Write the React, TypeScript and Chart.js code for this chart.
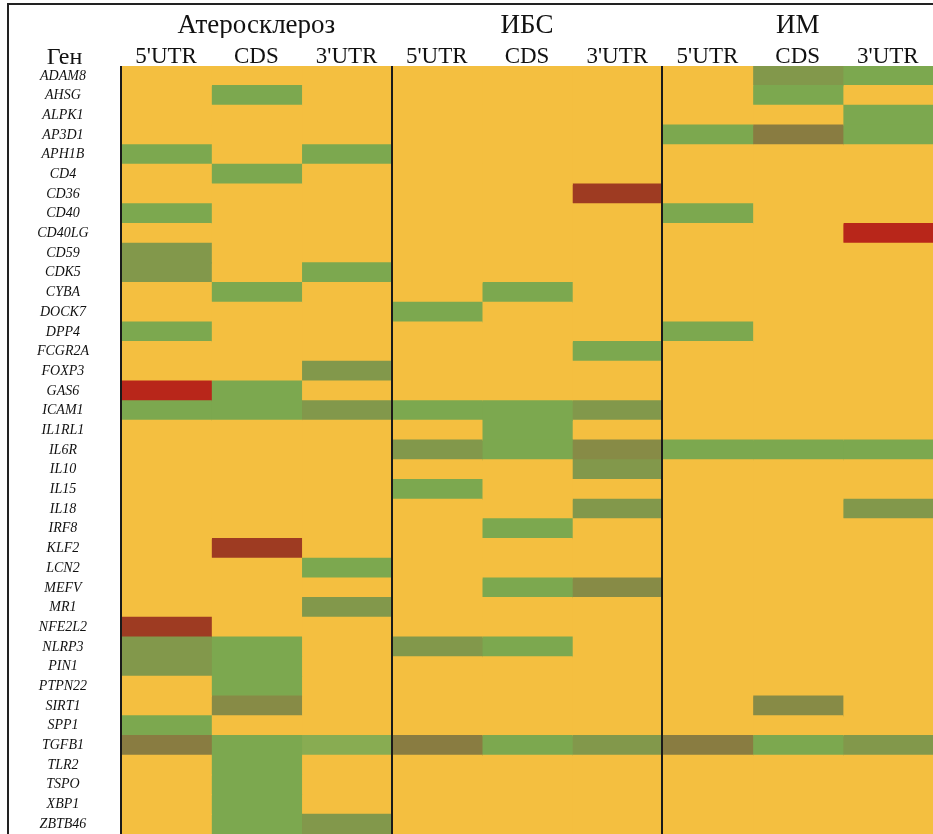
import React, { useEffect, useRef } from 'react';
import { Chart, registerables } from 'chart.js';

Chart.register(...registerables);

const genes = [
  'ADAM8', 'AHSG', 'ALPK1', 'AP3D1', 'APH1B', 'CD4', 'CD36', 'CD40', 'CD40LG', 'CD59',
  'CDK5', 'CYBA', 'DOCK7', 'DPP4', 'FCGR2A', 'FOXP3', 'GAS6', 'ICAM1', 'IL1RL1', 'IL6R',
  'IL10', 'IL15', 'IL18', 'IRF8', 'KLF2', 'LCN2', 'MEFV', 'MR1', 'NFE2L2', 'NLRP3',
  'PIN1', 'PTPN22', 'SIRT1', 'SPP1', 'TGFB1', 'TLR2', 'TSPO', 'XBP1', 'ZBTB46',
];
const yAxisHeader = 'Ген';
const groups = ['Атеросклероз', 'ИБС', 'ИМ'];
const regions = ["5'UTR", 'CDS', "3'UTR"];
const groupBoundaries = [0, 3, 6];

// colour level per cell: 0 yellow, 1 green, 2 olive, 3 dark olive, 4 brown olive, 5 red-brown, 6 red, 7 light green
const levelColors = ['#F4BF40', '#7CA84F', '#82984B', '#878B46', '#897C41', '#9E3B22', '#B8261A', '#88AC52'];

const ath5UTR = [0, 0, 0, 0, 1, 0, 0, 1, 0, 2, 2, 0, 0, 1, 0, 0, 6, 1, 0, 0, 0, 0, 0, 0, 0, 0, 0, 0, 5, 2, 2, 0, 0, 1, 4, 0, 0, 0, 0];
const athCDS = [0, 1, 0, 0, 0, 1, 0, 0, 0, 0, 0, 1, 0, 0, 0, 0, 1, 1, 0, 0, 0, 0, 0, 0, 5, 0, 0, 0, 0, 1, 1, 1, 3, 0, 1, 1, 1, 1, 1];
const ath3UTR = [0, 0, 0, 0, 1, 0, 0, 0, 0, 0, 1, 0, 0, 0, 0, 2, 0, 2, 0, 0, 0, 0, 0, 0, 0, 1, 0, 2, 0, 0, 0, 0, 0, 0, 7, 0, 0, 0, 2];
const ibs5UTR = [0, 0, 0, 0, 0, 0, 0, 0, 0, 0, 0, 0, 1, 0, 0, 0, 0, 1, 0, 2, 0, 1, 0, 0, 0, 0, 0, 0, 0, 2, 0, 0, 0, 0, 4, 0, 0, 0, 0];
const ibsCDS = [0, 0, 0, 0, 0, 0, 0, 0, 0, 0, 0, 1, 0, 0, 0, 0, 0, 1, 1, 1, 0, 0, 0, 1, 0, 0, 1, 0, 0, 1, 0, 0, 0, 0, 1, 0, 0, 0, 0];
const ibs3UTR = [0, 0, 0, 0, 0, 0, 5, 0, 0, 0, 0, 0, 0, 0, 1, 0, 0, 2, 0, 3, 2, 0, 2, 0, 0, 0, 3, 0, 0, 0, 0, 0, 0, 0, 2, 0, 0, 0, 0];
const im5UTR = [0, 0, 0, 1, 0, 0, 0, 1, 0, 0, 0, 0, 0, 1, 0, 0, 0, 0, 0, 1, 0, 0, 0, 0, 0, 0, 0, 0, 0, 0, 0, 0, 0, 0, 4, 0, 0, 0, 0];
const imCDS = [2, 1, 0, 4, 0, 0, 0, 0, 0, 0, 0, 0, 0, 0, 0, 0, 0, 0, 0, 1, 0, 0, 0, 0, 0, 0, 0, 0, 0, 0, 0, 0, 3, 0, 1, 0, 0, 0, 0];
const im3UTR = [1, 0, 1, 1, 0, 0, 0, 0, 6, 0, 0, 0, 0, 0, 0, 0, 0, 0, 0, 1, 0, 0, 2, 0, 0, 0, 0, 0, 0, 0, 0, 0, 0, 0, 2, 0, 0, 0, 0];

const columns = [ath5UTR, athCDS, ath3UTR, ibs5UTR, ibsCDS, ibs3UTR, im5UTR, imCDS, im3UTR];
const columnLabels = groups.flatMap(() => regions);

const SERIF = "'Liberation Serif', 'Times New Roman', serif";

const headerPlugin = {
  id: 'geneHeader',
  afterDatasetsDraw(chart: any) {
    const ctx = chart.ctx;
    const xs = chart.scales.x;
    const { top, bottom } = chart.chartArea;
    ctx.save();
    ctx.strokeStyle = '#1a1a1a';
    ctx.lineWidth = 2;
    groupBoundaries.forEach((v) => {
      const px = Math.round(xs.getPixelForValue(v));
      ctx.beginPath();
      ctx.moveTo(px, top);
      ctx.lineTo(px, bottom);
      ctx.stroke();
    });
    ctx.restore();
  },
  afterDraw(chart: any) {
    const ctx = chart.ctx;
    ctx.save();
    ctx.font = `24px ${SERIF}`;
    ctx.fillStyle = '#111';
    ctx.textAlign = 'center';
    ctx.textBaseline = 'alphabetic';
    ctx.fillText(yAxisHeader, chart.chartArea.left / 2 + 4, chart.scales.x.bottom - 2);
    ctx.restore();
  },
};

export default function App() {
  const canvasRef = useRef<HTMLCanvasElement | null>(null);

  useEffect(() => {
    if (!canvasRef.current) return;
    const chart = new Chart(canvasRef.current, {
      type: 'bar',
      data: {
        labels: genes,
        datasets: columns.map((col, c) => ({
          label: columnLabels[c],
          data: genes.map(() => [c, c + 1]),
          backgroundColor: col.map((v) => levelColors[v]),
          borderWidth: 0,
          barPercentage: 1,
          categoryPercentage: 1,
          grouped: false,
          inflateAmount: 0.6,
          xAxisID: 'x',
          yAxisID: 'y',
        })) as any,
      },
      options: {
        indexAxis: 'y',
        animation: false,
        responsive: false,
        maintainAspectRatio: false,
        layout: { padding: 0, autoPadding: false },
        events: [],
        plugins: {
          legend: { display: false },
          tooltip: { enabled: false },
          title: { display: false },
        },
        scales: {
          y: {
            type: 'category',
            position: 'left',
            offset: true,
            grid: { display: false, drawTicks: false },
            border: { display: false },
            ticks: {
              autoSkip: false,
              crossAlign: 'center',
              padding: 32,
              color: '#111',
              font: { family: SERIF, style: 'italic', size: 14 },
            },
            afterFit: (s: any) => {
              s.width = 121;
              s.paddingTop = 0;
              s.paddingBottom = 0;
            },
          },
          x: {
            type: 'linear',
            position: 'top',
            min: 0,
            max: 9,
            weight: 0,
            grid: { display: false, drawTicks: false },
            border: { display: false },
            afterBuildTicks: (s: any) => {
              s.ticks = columnLabels.map((_, i) => ({ value: i + 0.5 }));
            },
            ticks: {
              autoSkip: false,
              maxRotation: 0,
              padding: -2,
              color: '#111',
              font: { family: SERIF, size: 23, lineHeight: 1 },
              callback: (v: any) => columnLabels[Math.floor(Number(v))],
            },
            afterFit: (s: any) => {
              s.height = 28;
              s.paddingLeft = 0;
              s.paddingRight = 0;
            },
          },
          x2: {
            type: 'linear',
            position: 'top',
            min: 0,
            max: 9,
            weight: 1,
            grid: { display: false, drawTicks: false },
            border: { display: false },
            afterBuildTicks: (s: any) => {
              s.ticks = groups.map((_, i) => ({ value: i * 3 + 1.5 }));
            },
            ticks: {
              autoSkip: false,
              maxRotation: 0,
              padding: -1,
              color: '#111',
              font: { family: SERIF, size: 27, lineHeight: 1 },
              callback: (v: any) => groups[Math.floor(Number(v) / 3)],
            },
            afterFit: (s: any) => {
              s.height = 38;
              s.paddingLeft = 0;
              s.paddingRight = 0;
            },
          },
        },
      } as any,
      plugins: [headerPlugin],
    });
    return () => chart.destroy();
  }, []);

  return (
    <div style={{ position: 'absolute', left: 0, top: 0, width: 933, height: 834, background: '#fff', overflow: 'hidden' }}>
      <canvas ref={canvasRef} width={933} height={834} style={{ display: 'block', width: 933, height: 834 }} />
      <div
        style={{
          position: 'absolute', left: 7, top: 3, right: -10, bottom: -10,
          borderLeft: '2px solid #222', borderTop: '2px solid #222', pointerEvents: 'none',
        }}
      />
    </div>
  );
}
